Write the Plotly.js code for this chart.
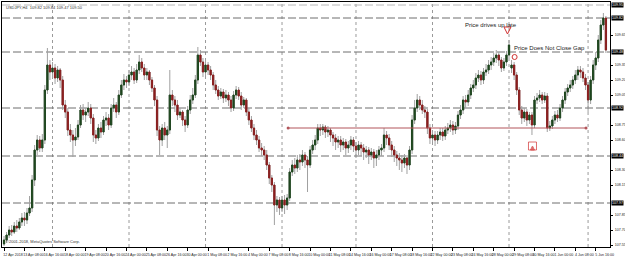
<!DOCTYPE html>
<html><head><meta charset="utf-8">
<script src="https://cdn.plot.ly/plotly-3.0.1.min.js"></script>
<style>html,body{margin:0;padding:0;background:#fff;}#chart{width:625px;height:265px;}</style>
</head><body><div id="chart"></div>
<script>
// ---- data (H4 bars) ----
const open = [
107.56,107.60,107.65,107.70,107.68,107.74,107.72,107.78,107.82,107.80,
107.87,107.92,108.20,108.50,108.60,108.52,108.60,109.10,109.35,109.28,
109.32,109.22,109.30,109.20,108.95,108.88,108.70,108.65,108.60,108.63,
108.75,108.90,108.85,108.88,108.92,108.82,108.65,108.62,108.72,108.68,
108.80,108.82,108.75,108.92,108.95,108.88,109.05,109.15,109.20,109.18,
109.25,109.28,109.20,109.30,109.38,109.32,109.25,109.28,109.20,109.12,
109.00,108.70,108.60,108.72,108.65,108.70,109.05,109.00,108.95,108.85,
108.88,108.80,108.75,108.90,109.00,109.05,109.20,109.45,109.38,109.28,
109.35,109.30,109.25,109.15,109.10,109.04,109.08,109.02,109.05,109.00,
108.92,109.05,109.10,109.04,108.95,109.00,108.88,108.80,108.72,108.65,
108.60,108.52,108.50,108.45,108.35,108.22,108.15,107.95,108.00,107.92,
108.00,107.95,108.02,108.28,108.35,108.32,108.40,108.38,108.45,108.40,
108.35,108.50,108.55,108.60,108.72,108.70,108.73,108.68,108.70,108.65,
108.62,108.58,108.60,108.55,108.58,108.52,108.55,108.60,108.54,108.50,
108.55,108.52,108.48,108.50,108.45,108.48,108.42,108.45,108.50,108.52,
108.65,108.62,108.55,108.50,108.45,108.42,108.40,108.37,108.42,108.35,
108.50,108.80,108.92,109.00,108.95,108.90,108.88,108.72,108.62,108.65,
108.60,108.65,108.68,108.64,108.70,108.72,108.75,108.70,108.74,108.85,
108.90,109.00,108.98,109.05,109.12,109.15,109.22,109.25,109.20,109.28,
109.30,109.35,109.38,109.42,109.45,109.40,109.32,109.38,109.45,109.32,
109.35,109.25,109.10,108.90,108.82,108.88,108.80,108.85,108.75,109.00,
109.02,109.05,109.00,109.04,108.72,108.74,108.80,108.85,108.82,108.92,
109.00,109.08,109.12,109.15,109.20,109.25,109.30,109.28,109.22,109.15,
109.00,109.20,109.35,109.42,109.60,109.75,109.82];
const high = [
107.64,107.68,107.74,107.75,107.78,107.80,107.82,107.87,107.88,107.92,
108.04,108.25,108.55,108.65,108.64,108.66,109.15,109.52,109.40,109.38,
109.36,109.34,109.32,109.24,109.00,108.92,108.76,108.70,108.72,108.80,
108.95,108.96,108.92,108.98,108.96,108.86,108.70,108.76,108.78,108.84,
108.88,108.86,108.96,109.02,108.98,109.10,109.20,109.26,109.24,109.30,
109.34,109.32,109.36,109.45,109.42,109.36,109.32,109.30,109.23,109.15,
109.04,108.74,108.76,108.78,108.74,109.30,109.10,109.04,109.00,108.92,
108.90,108.84,108.94,109.05,109.12,109.25,109.53,109.50,109.42,109.40,
109.38,109.34,109.28,109.20,109.14,109.12,109.11,109.10,109.08,109.04,
109.09,109.14,109.13,109.08,109.03,109.02,108.92,108.84,108.76,108.70,
108.64,108.57,108.54,108.50,108.38,108.25,108.18,108.04,108.03,108.04,
108.05,108.06,108.32,108.40,108.42,108.45,108.46,108.50,108.48,108.44,
108.54,108.60,108.65,108.76,108.76,108.76,108.75,108.74,108.72,108.68,
108.66,108.64,108.64,108.62,108.61,108.59,108.64,108.63,108.58,108.59,
108.58,108.56,108.54,108.53,108.52,108.51,108.50,108.54,108.56,108.72,
108.69,108.66,108.59,108.54,108.49,108.47,108.45,108.46,108.45,108.54,
108.85,109.00,109.06,109.04,109.00,108.94,108.91,108.76,108.70,108.69,
108.69,108.72,108.72,108.74,108.77,108.80,108.79,108.78,108.89,108.95,
109.04,109.05,109.10,109.16,109.20,109.27,109.30,109.29,109.32,109.36,
109.40,109.43,109.47,109.50,109.48,109.43,109.42,109.49,109.60,109.40,
109.38,109.28,109.13,108.94,108.92,108.91,108.88,108.88,109.04,109.07,
109.10,109.08,109.08,109.07,108.79,108.84,108.89,108.90,108.96,109.04,
109.12,109.16,109.20,109.24,109.30,109.34,109.34,109.32,109.26,109.18,
109.24,109.40,109.48,109.65,109.80,109.87,109.84];
const low = [
107.54,107.57,107.62,107.64,107.66,107.68,107.70,107.74,107.74,107.76,
107.84,107.88,108.14,108.45,108.48,108.48,108.56,109.06,109.20,109.22,
109.16,109.18,109.12,108.90,108.82,108.64,108.58,108.43,108.54,108.60,
108.72,108.80,108.78,108.84,108.76,108.58,108.56,108.59,108.62,108.65,
108.74,108.70,108.72,108.88,108.82,108.85,109.02,109.10,109.12,109.14,
109.20,109.16,109.17,109.26,109.28,109.20,109.20,109.15,109.08,108.94,
108.64,108.45,108.54,108.60,108.52,108.66,108.94,108.88,108.80,108.82,
108.74,108.68,108.72,108.86,108.96,109.02,109.16,109.34,109.23,109.24,
109.25,109.20,109.10,109.06,109.00,109.01,108.97,108.98,108.94,108.88,
108.89,109.01,109.00,108.90,108.92,108.84,108.75,108.68,108.60,108.55,
108.48,108.44,108.40,108.30,108.16,108.08,107.75,107.88,107.85,107.88,
107.86,107.90,107.99,108.24,108.26,108.28,108.30,108.34,108.32,108.08,
108.32,108.46,108.50,108.56,108.64,108.65,108.62,108.63,108.58,108.54,
108.50,108.52,108.48,108.50,108.45,108.47,108.50,108.48,108.42,108.45,
108.44,108.40,108.42,108.36,108.40,108.32,108.34,108.40,108.44,108.48,
108.55,108.50,108.43,108.38,108.34,108.30,108.28,108.32,108.26,108.30,
108.46,108.76,108.88,108.90,108.86,108.82,108.66,108.56,108.58,108.54,
108.56,108.60,108.59,108.60,108.66,108.68,108.65,108.66,108.70,108.81,
108.86,108.92,108.94,109.01,109.08,109.11,109.18,109.15,109.16,109.24,
109.26,109.30,109.34,109.37,109.34,109.28,109.29,109.34,109.42,109.27,
109.20,109.05,108.85,108.76,108.78,108.74,108.76,108.65,108.72,108.96,
108.98,108.96,108.97,108.68,108.69,108.71,108.76,108.78,108.79,108.88,
108.96,109.04,109.08,109.11,109.16,109.20,109.22,109.18,109.10,108.88,
108.96,109.16,109.30,109.38,109.56,109.70,109.47];
const close = [
107.60,107.65,107.70,107.68,107.74,107.72,107.78,107.82,107.80,107.87,
107.92,108.20,108.50,108.60,108.52,108.60,109.10,109.35,109.28,109.32,
109.22,109.30,109.20,108.95,108.88,108.70,108.65,108.60,108.63,108.75,
108.90,108.85,108.88,108.92,108.82,108.65,108.62,108.72,108.68,108.80,
108.82,108.75,108.92,108.95,108.88,109.05,109.15,109.20,109.18,109.25,
109.28,109.20,109.30,109.38,109.32,109.25,109.28,109.20,109.12,109.00,
108.70,108.60,108.72,108.65,108.70,109.05,109.00,108.95,108.85,108.88,
108.80,108.75,108.90,109.00,109.05,109.20,109.45,109.38,109.28,109.35,
109.30,109.25,109.15,109.10,109.04,109.08,109.02,109.05,109.00,108.92,
109.05,109.10,109.04,108.95,109.00,108.88,108.80,108.72,108.65,108.60,
108.52,108.50,108.45,108.35,108.22,108.15,107.95,108.00,107.92,108.00,
107.95,108.02,108.28,108.35,108.32,108.40,108.38,108.45,108.40,108.35,
108.50,108.55,108.60,108.72,108.70,108.73,108.68,108.70,108.65,108.62,
108.58,108.60,108.55,108.58,108.52,108.55,108.60,108.54,108.50,108.55,
108.52,108.48,108.50,108.45,108.48,108.42,108.45,108.50,108.52,108.65,
108.62,108.55,108.50,108.45,108.42,108.40,108.37,108.42,108.35,108.50,
108.80,108.92,109.00,108.95,108.90,108.88,108.72,108.62,108.65,108.60,
108.65,108.68,108.64,108.70,108.72,108.75,108.70,108.74,108.85,108.90,
109.00,108.98,109.05,109.12,109.15,109.22,109.25,109.20,109.28,109.30,
109.35,109.38,109.42,109.45,109.40,109.32,109.38,109.45,109.55,109.35,
109.25,109.10,108.90,108.82,108.88,108.80,108.85,108.75,109.00,109.02,
109.05,109.00,109.04,108.72,108.74,108.80,108.85,108.82,108.92,109.00,
109.08,109.12,109.15,109.20,109.25,109.30,109.28,109.22,109.15,109.00,
109.20,109.35,109.42,109.60,109.75,109.82,109.50];

// x-axis tick labels (one every 8 bars)
const tickBars = [0,8,16,24,32,40,48,56,64,72,80,88,96,104,112,120,128,136,144,152,160,168,176,184,192,200,208,216,224,232];
const tickLabels = ["12 Apr 2018","13 Apr 08:00","16 Apr 16:00","18 Apr 00:00","19 Apr 08:00","20 Apr 16:00","24 Apr 00:00","25 Apr 08:00","26 Apr 16:00","30 Apr 00:00","1 May 08:00","2 May 16:00","4 May 00:00","7 May 08:00","8 May 16:00","10 May 00:00","11 May 08:00","14 May 16:00","16 May 00:00","17 May 08:00","18 May 16:00","22 May 00:00","23 May 08:00","24 May 16:00","28 May 00:00","29 May 08:00","30 May 16:00","1 Jun 00:00","4 Jun 08:00","5 Jun 16:00"];

// price-scale labels (those hidden behind level boxes left out)
const priceTicks = [107.55,107.70,107.85,108.15,108.30,108.60,108.75,109.05,109.20,109.35,109.65];

// horizontal levels drawn on the chart
const levels = [109.95,109.82,109.48,108.92,108.44,107.97];
// vertical grid (bar positions)
const gridBars = [19,49,79,109,138,168,198,229];
// trend line
const trendX = [111.4,228.2];
const trendY = [108.72,108.72];
// markers / notes
const noteDrive = {x:191, y:109.75, text:"Price drives up late"};
const noteGap = {x:199, y:109.52, text:"Price Does Not Close Gap"};
const arrowDown = {x:197.4, y:109.66};
const gapMark = {x:200.2, y:109.43};
const boxMark = {x:207.2, y:108.54};

const xs = close.map((_, i) => i);
const bodyHi = open.map((o, i) => Math.max(o, close[i]));
const bodyLo = open.map((o, i) => Math.min(o, close[i]));

const wickCol = '#a0a0a0';
const bull = '#1e461e';
const bear = '#8a1e1e';

const traces = [
  {type:'candlestick', x:xs, open:open, high:high, low:low, close:close,
   increasing:{line:{color:wickCol,width:1},fillcolor:wickCol},
   decreasing:{line:{color:wickCol,width:1},fillcolor:wickCol},
   whiskerwidth:0, hoverinfo:'skip', showlegend:false},
  {type:'candlestick', x:xs, open:open, high:bodyHi, low:bodyLo, close:close,
   increasing:{line:{color:bull,width:1},fillcolor:bull},
   decreasing:{line:{color:bear,width:1},fillcolor:bear},
   whiskerwidth:0, hoverinfo:'skip', showlegend:false},
  {type:'scatter', x:trendX, y:trendY, mode:'lines+markers',
   line:{color:'#b2555a', width:1}, marker:{size:3, color:'#b2555a'},
   hoverinfo:'skip', showlegend:false},
  {type:'scatter', x:[arrowDown.x], y:[arrowDown.y], mode:'markers',
   marker:{symbol:'arrow-down-open', size:7, color:'#d03030', line:{width:1,color:'#d03030'}},
   hoverinfo:'skip', showlegend:false},
  {type:'scatter', x:[gapMark.x], y:[gapMark.y], mode:'markers',
   marker:{symbol:'circle-open', size:5, color:'#d03030', line:{width:1,color:'#d03030'}},
   hoverinfo:'skip', showlegend:false},
  {type:'scatter', x:[boxMark.x, boxMark.x], y:[boxMark.y, boxMark.y], mode:'markers',
   marker:{symbol:['square-open','arrow-up'], size:[8,4], color:'#d03030', line:{width:1,color:'#d03030'}},
   hoverinfo:'skip', showlegend:false}
];

const shapes = [];
gridBars.forEach(b => shapes.push({type:'line', xref:'x', yref:'paper', x0:b, x1:b, y0:0, y1:1,
  line:{color:'#9a9a9a', width:1, dash:'dot'}, layer:'below'}));
levels.forEach((lv, k) => shapes.push({type:'line', xref:'paper', yref:'y', x0:0, x1:1, y0:lv, y1:lv,
  line:{color: k === 0 ? '#b8b8b8' : '#6e6e6e', width:1, dash:'8px,3px'}, layer:'below'}));

const annotations = [
  {xref:'paper', yref:'paper', x:0.003, y:0.995, xanchor:'left', yanchor:'top', showarrow:false,
   text:'USDJPY,H4  109.82 109.84 109.47 109.50', font:{family:'Liberation Sans, Arial', size:4, color:'#333'}},
  {xref:'paper', yref:'paper', x:0.003, y:0.005, xanchor:'left', yanchor:'bottom', showarrow:false,
   text:'©2001-2018, MetaQuotes Software Corp.', font:{family:'Liberation Sans, Arial', size:4, color:'#333'}},
  {x:noteDrive.x, y:noteDrive.y, xanchor:'center', yanchor:'middle', showarrow:false, text:noteDrive.text,
   font:{family:'Liberation Sans, Arial', size:6, color:'#222'}},
  {x:noteGap.x, y:noteGap.y, xanchor:'left', yanchor:'middle', showarrow:false, text:noteGap.text,
   font:{family:'Liberation Sans, Arial', size:6, color:'#222'}}
];
levels.forEach(lv => annotations.push({xref:'paper', yref:'y', x:1, y:lv, xanchor:'left', yanchor:'middle',
  xshift:1, showarrow:false, text:lv.toFixed(2), bgcolor:'#000', borderpad:0,
  font:{family:'Liberation Sans, Arial', size:3.6, color:'#fff'}}));

const layout = {
  width:625, height:265,
  margin:{l:2, r:15, t:2, b:18, pad:0},
  paper_bgcolor:'#fff', plot_bgcolor:'#fff',
  showlegend:false,
  xaxis:{range:[-0.8,237.6], rangeslider:{visible:false}, showgrid:false, zeroline:false,
    tickmode:'array', tickvals:tickBars, ticktext:tickLabels, tickangle:0,
    ticks:'outside', ticklen:3, tickcolor:'#000', ticklabelshift:9, ticklabelstandoff:1,
    tickfont:{family:'Liberation Sans, Arial', size:3.6, color:'#222'},
    showline:true, linecolor:'#000', linewidth:1, mirror:true, fixedrange:true},
  yaxis:{range:[107.53,109.98], side:'right', showgrid:false, zeroline:false,
    tickmode:'array', tickvals:priceTicks, ticktext:priceTicks.map(v => v.toFixed(2)),
    ticks:'outside', ticklen:2, tickcolor:'#000', ticklabelstandoff:1,
    tickfont:{family:'Liberation Sans, Arial', size:3.6, color:'#222'},
    showline:true, linecolor:'#000', linewidth:1, mirror:true, fixedrange:true},
  shapes:shapes,
  annotations:annotations
};

Plotly.newPlot('chart', traces, layout, {staticPlot:true, displayModeBar:false});
</script>
</body></html>
